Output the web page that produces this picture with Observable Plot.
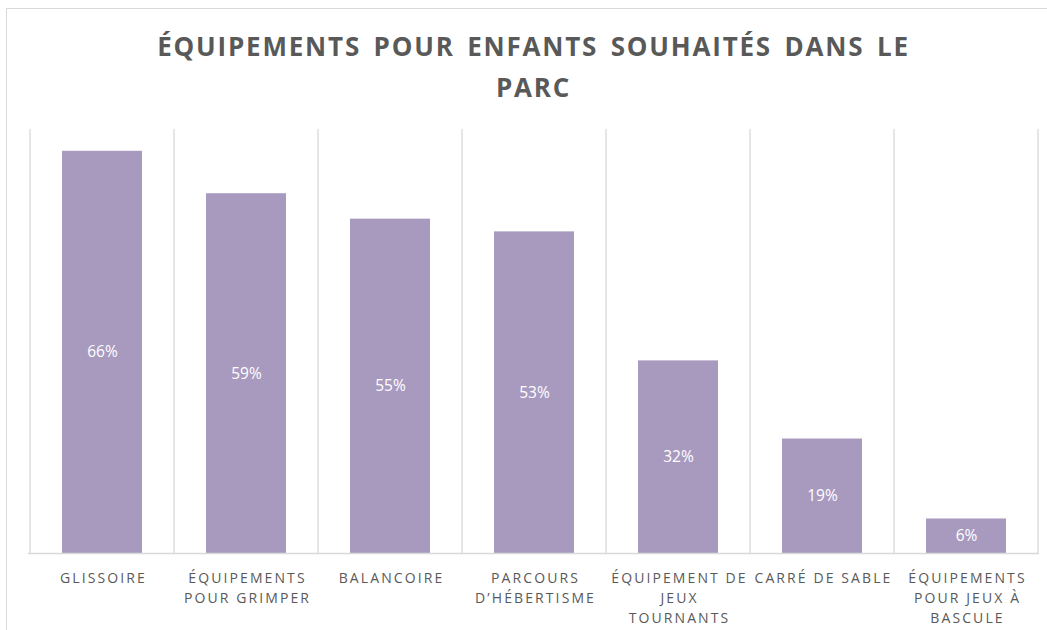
<!DOCTYPE html>
<html>
<head>
<meta charset="utf-8">
<script src="https://cdn.jsdelivr.net/npm/d3@7"></script>
<script src="https://cdn.jsdelivr.net/npm/@observablehq/plot@0.6"></script>
<style>
  html, body { margin: 0; padding: 0; background: #fff; }
  #wrap { position: relative; width: 1047px; height: 630px; overflow: hidden; background: #fff; }
  #frame { position: absolute; left: 6px; top: 8px; width: 1200px; height: 800px;
           border-top: 1.5px solid #D9D9D9; border-left: 1.5px solid #D9D9D9; }
  #title { position: absolute; left: 28px; width: 1011px; top: 26px; text-align: center;
           font-family: "Open Sans", sans-serif; font-weight: 700; font-size: 26px;
           letter-spacing: 1.8px; word-spacing: 4px; line-height: 41px; color: #595959; }
  #chart { position: absolute; left: 0; top: 0; }
  #chart svg g[aria-label="x-axis tick label"] text { letter-spacing: 2.1px; }
</style>
</head>
<body>
<div id="wrap">
  <div id="frame"></div>
  <div id="chart"></div>
  <div id="title">ÉQUIPEMENTS POUR ENFANTS SOUHAITÉS DANS LE<br>PARC</div>
</div>
<script>
const categories = ["Glissoire", "Équipements pour grimper", "Balancoire", "Parcours d'hébertisme",
  "Équipement de jeux tournants", "Carré de sable", "Équipements pour jeux à bascule"];
const values = [66.4, 59.4, 55.2, 53.1, 31.8, 18.9, 5.7];
const tickLabels = ["GLISSOIRE", "ÉQUIPEMENTS\nPOUR GRIMPER", "BALANCOIRE", "PARCOURS\nD’HÉBERTISME",
  "ÉQUIPEMENT DE\nJEUX\nTOURNANTS", "CARRÉ DE SABLE", "ÉQUIPEMENTS\nPOUR JEUX À\nBASCULE"];

const data = categories.map((c, i) => ({cat: c, value: values[i], label: tickLabels[i]}));
const labelOf = new Map(data.map(d => [d.cat, d.label]));

function separators(index, scales, vals, dims) {
  const x = scales.x;
  const xs = categories.map(c => x(c));
  const step = xs[1] - xs[0];
  const bw = x.bandwidth != null ? (typeof x.bandwidth === "function" ? x.bandwidth() : x.bandwidth) : step * 0.554;
  const gap = step - bw;
  const bounds = xs.map(v => v - gap / 2);
  bounds.push(xs[xs.length - 1] + bw + gap / 2);
  const y0 = scales.y(0), y1 = scales.y(70);
  const g = d3.create("svg:g").attr("stroke", "#D9D9D9").attr("stroke-width", 1.3);
  for (const b of bounds) {
    g.append("line").attr("x1", b).attr("x2", b).attr("y1", y1).attr("y2", y0);
  }
  return g.node();
}

const chart = Plot.plot({
  width: 1047,
  height: 630,
  marginTop: 129,
  marginBottom: 77,
  marginLeft: 28,
  marginRight: 8,
  style: {fontFamily: "'Open Sans', sans-serif", background: "transparent", overflow: "visible"},
  x: {domain: categories, paddingInner: 0.446, paddingOuter: 0.223, label: null},
  y: {domain: [0, 70], axis: null},
  marks: [
    separators,
    Plot.barY(data, {x: "cat", y: "value", fill: "#A89ABF", inset: 0}),
    Plot.ruleY([0], {stroke: "#D9D9D9", strokeWidth: 1.5}),
    Plot.text(data, {x: "cat", y: d => d.value / 2, text: d => Math.round(d.value) + "%",
      fill: "#FFFFFF", fontSize: 15.5}),
    Plot.axisX({tickSize: 0, tickPadding: 15, fontSize: 14, lineHeight: 1.43, lineAnchor: "top",
      fill: "#595959", tickFormat: c => labelOf.get(c), label: null, dx: 1})
  ]
});
document.getElementById("chart").appendChild(chart);
</script>
</body>
</html>
